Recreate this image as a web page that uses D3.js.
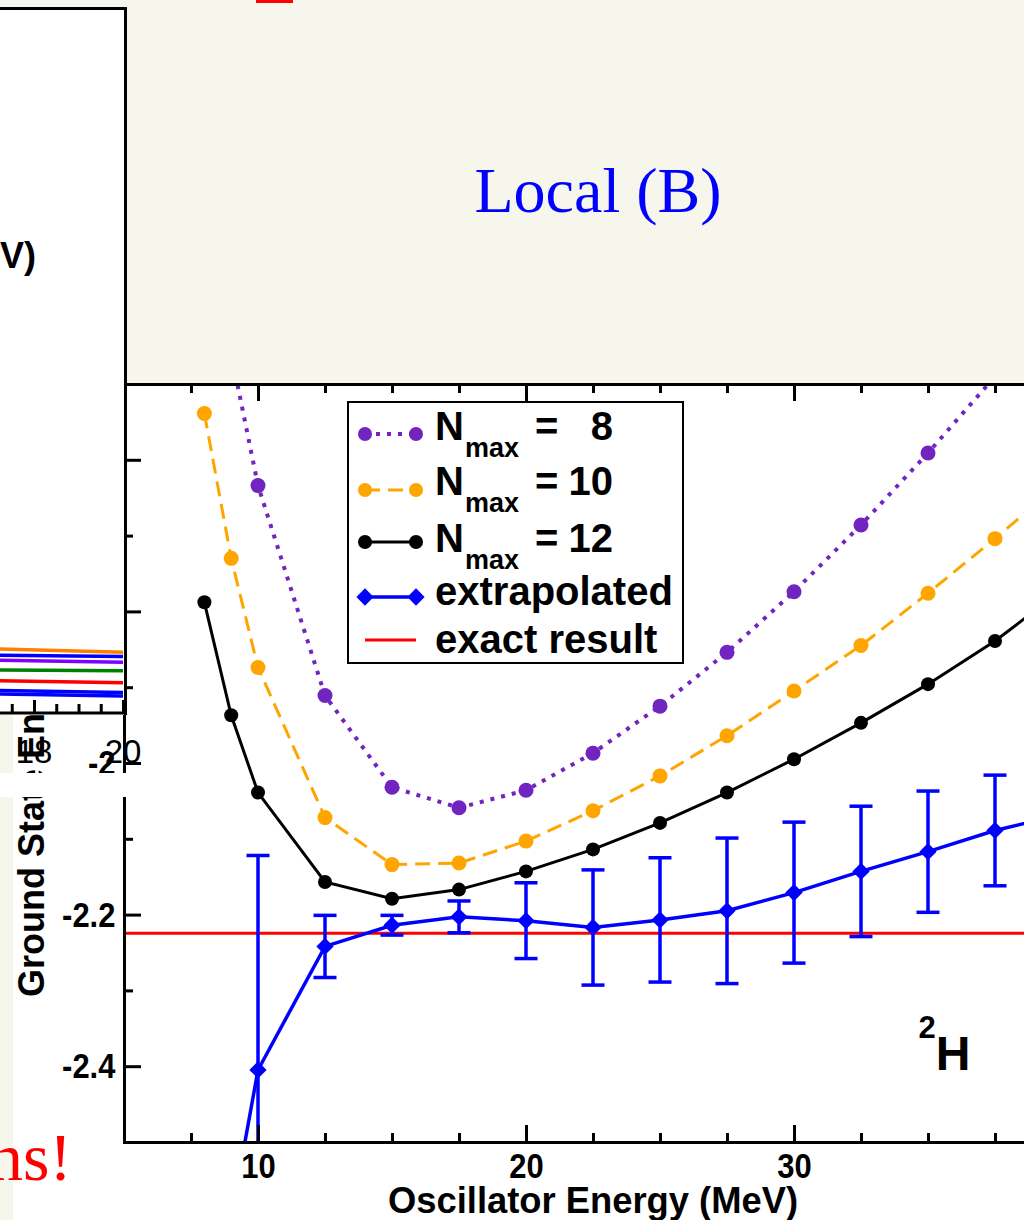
<!DOCTYPE html>
<html>
<head>
<meta charset="utf-8">
<script src="https://cdn.jsdelivr.net/npm/d3@7"></script>
<style>
  html, body { margin: 0; padding: 0; background: #f7f6ed; }
  svg { display: block; }
  .ax path, .ax line { stroke: #000; stroke-width: 3px; }
  .ax text { font-family: "Liberation Sans", Arial, sans-serif; font-weight: bold; font-size: 36px; fill: #000; }
</style>
</head>
<body>
<div id="chart"></div>
<script>
// oscillator energies (MeV) of the NCSM runs
var hwValues = [8, 9, 10, 12.5, 15, 17.5, 20, 22.5, 25, 27.5, 30, 32.5, 35, 37.5, 40];
var nmax8  = [-1.20, -1.46, -1.634, -1.911, -2.032, -2.059, -2.036, -1.987, -1.925, -1.854, -1.774, -1.686, -1.591, -1.49, -1.38];
var nmax10 = [-1.539, -1.730, -1.874, -2.072, -2.134, -2.132, -2.103, -2.063, -2.017, -1.964, -1.905, -1.845, -1.776, -1.704, -1.629];
var nmax12 = [-1.788, -1.937, -2.039, -2.157, -2.179, -2.167, -2.143, -2.114, -2.079, -2.039, -1.995, -1.947, -1.896, -1.839, -1.772];

var hwExtrap   = [9, 10, 12.5, 15, 17.5, 20, 22.5, 25, 27.5, 30, 32.5, 35, 37.5, 40];
var extrap     = [-2.60, -2.405, -2.242, -2.214, -2.203, -2.208, -2.217, -2.207, -2.195, -2.171, -2.143, -2.117, -2.089, -2.068];
var extrapErr  = [0.05, 0.283, 0.041, 0.013, 0.021, 0.050, 0.076, 0.082, 0.096, 0.093, 0.086, 0.080, 0.073, 0.070];

var exactEnergy = -2.2246;

var xMajorTicks = [10, 20, 30, 40];
var xMinorTicks = [7.5, 12.5, 15, 17.5, 22.5, 25, 27.5, 32.5, 35, 37.5];
var yMajorTicks = [-2.4, -2.2, -2, -1.8, -1.6];
var yMinorTicks = [-2.5, -2.3, -2.1, -1.9, -1.7, -1.5];

var legendLabels = ["8", "10", "12"];

// the overlapping panel on the left (another plot of the slide)
var panelX = [17, 20];
var panelSeries = [
  { color: "#ff8000", values: [-2.209, -2.214] },
  { color: "#0000ff", values: [-2.218, -2.220] },
  { color: "#7f00ff", values: [-2.225, -2.228] },
  { color: "#008000", values: [-2.239, -2.240] },
  { color: "#ff0000", values: [-2.254, -2.257] },
  { color: "#0000ff", values: [-2.268, -2.271] },
  { color: "#0000ff", values: [-2.273, -2.276] }
];
var panelTicks = [18, 20];
var panelMinorTicks = [17.5, 18.5, 19, 19.5];

var W = 1024, H = 1220;
var plotL = 124, plotR = 1062, plotT = 384, plotB = 1142;
var font = '"Liberation Sans", Arial, sans-serif';
var serif = '"Liberation Serif", "Times New Roman", serif';

var svg = d3.select("#chart").append("svg")
  .attr("width", W).attr("height", H);

svg.append("rect").attr("width", W).attr("height", H).attr("fill", "#f7f6ed");

// slide title remnant and heading
svg.append("rect").attr("x", 256).attr("y", 0).attr("width", 37).attr("height", 3).attr("fill", "#ff0000");
svg.append("text")
  .attr("x", 598).attr("y", 212)
  .attr("text-anchor", "middle")
  .style("font-family", serif).style("font-size", "64px")
  .attr("fill", "#0000ff")
  .text("Local (B)");

// main plot picture
svg.append("rect").attr("x", 13).attr("y", 383).attr("width", W - 13).attr("height", H - 383).attr("fill", "#fff");

var x = d3.scaleLinear().domain([5, 40]).range([plotL, plotR]);
var y = d3.scaleLinear().domain([-2.5, -1.5]).range([plotB, plotT]);

svg.append("clipPath").attr("id", "plotclip")
  .append("rect").attr("x", plotL).attr("y", plotT).attr("width", plotR - plotL).attr("height", plotB - plotT);

var plot = svg.append("g").attr("clip-path", "url(#plotclip)");

// exact result
plot.append("line")
  .attr("x1", plotL).attr("x2", plotR)
  .attr("y1", y(exactEnergy)).attr("y2", y(exactEnergy))
  .attr("stroke", "#ff0000").attr("stroke-width", 3);

var line = d3.line().x(d => x(d[0])).y(d => y(d[1]));

var series = [
  { vals: nmax8,  color: "#7124bf", dash: "4,7", width: 4, r: 7.5 },
  { vals: nmax10, color: "#ffa500", dash: "15,8", width: 3, r: 7.5 },
  { vals: nmax12, color: "#000000", dash: null, width: 3, r: 7 }
];

series.forEach(function(s) {
  var pts = hwValues.map((h, i) => [h, s.vals[i]]);
  plot.append("path")
    .datum(pts)
    .attr("d", line)
    .attr("fill", "none")
    .attr("stroke", s.color)
    .attr("stroke-width", s.width)
    .attr("stroke-dasharray", s.dash);
  plot.selectAll(null)
    .data(pts)
    .enter()
    .append("circle")
    .attr("cx", d => x(d[0]))
    .attr("cy", d => y(d[1]))
    .attr("r", s.r)
    .attr("fill", s.color);
});

// extrapolated with error bars
var ext = hwExtrap.map((h, i) => [h, extrap[i], extrapErr[i]]);
plot.append("path")
  .datum(ext)
  .attr("d", line)
  .attr("fill", "none")
  .attr("stroke", "#0000ff")
  .attr("stroke-width", 3.5);

var bars = plot.append("g").attr("stroke", "#0000ff").attr("stroke-width", 3.5);
ext.forEach(function(d) {
  var cx = x(d[0]), y0 = y(d[1] - d[2]), y1 = y(d[1] + d[2]);
  bars.append("line").attr("x1", cx).attr("x2", cx).attr("y1", y0).attr("y2", y1);
  bars.append("line").attr("x1", cx - 11.5).attr("x2", cx + 11.5).attr("y1", y0).attr("y2", y0);
  bars.append("line").attr("x1", cx - 11.5).attr("x2", cx + 11.5).attr("y1", y1).attr("y2", y1);
});

var diamond = d3.symbol().type(d3.symbolDiamond2).size(190);
plot.selectAll(null)
  .data(ext)
  .enter()
  .append("path")
  .attr("d", diamond)
  .attr("transform", d => `translate(${x(d[0])},${y(d[1])})`)
  .attr("fill", "#0000ff");

/* Axes */
var shrink = "scale(0.86,1)";

var xAxis = svg.append("g").attr("class", "ax")
  .attr("transform", `translate(0,${plotB})`)
  .call(d3.axisBottom(x).tickValues(xMajorTicks).tickSize(-17).tickPadding(10).tickFormat(d3.format("d")));
xAxis.selectAll("text").attr("transform", shrink);
svg.append("g").attr("class", "ax")
  .attr("transform", `translate(0,${plotB})`)
  .call(d3.axisBottom(x).tickValues(xMinorTicks).tickSize(-9).tickFormat(""))
  .select(".domain").remove();

svg.append("g").attr("class", "ax")
  .attr("transform", `translate(0,${plotT})`)
  .call(d3.axisTop(x).tickValues(xMajorTicks).tickSize(-17).tickFormat(""));
svg.append("g").attr("class", "ax")
  .attr("transform", `translate(0,${plotT})`)
  .call(d3.axisTop(x).tickValues(xMinorTicks).tickSize(-9).tickFormat(""))
  .select(".domain").remove();

var yAxis = svg.append("g").attr("class", "ax")
  .attr("transform", `translate(${plotL},0)`)
  .call(d3.axisLeft(y).tickValues(yMajorTicks).tickSize(-17).tickPadding(10).tickFormat(d => String(d)));
yAxis.selectAll("text").attr("transform", shrink);
svg.append("g").attr("class", "ax")
  .attr("transform", `translate(${plotL},0)`)
  .call(d3.axisLeft(y).tickValues(yMinorTicks).tickSize(-9).tickFormat(""))
  .select(".domain").remove();

svg.append("text")
  .attr("x", (plotL + plotR) / 2).attr("y", 1213)
  .attr("text-anchor", "middle")
  .style("font-family", font).style("font-weight", "bold").style("font-size", "36px")
  .attr("textLength", 410).attr("lengthAdjust", "spacingAndGlyphs")
  .text("Oscillator Energy  (MeV)");

svg.append("text")
  .attr("transform", `translate(44,${(plotT + plotB) / 2}) rotate(-90)`)
  .attr("text-anchor", "middle")
  .style("font-family", font).style("font-weight", "bold").style("font-size", "36px")
  .text("Ground State Energy (MeV)");

// nucleus label
var nuc = svg.append("text")
  .attr("x", x(34.65)).attr("y", y(-2.405))
  .style("font-family", font).style("font-weight", "bold");
nuc.append("tspan").attr("dy", -32).style("font-size", "31px").text("2");
nuc.append("tspan").attr("dy", 32).style("font-size", "48px").text("H");

/* Legend */
var lg = svg.append("g");
lg.append("rect")
  .attr("x", 348).attr("y", 402).attr("width", 335).attr("height", 261)
  .attr("fill", "#fff").attr("stroke", "#000").attr("stroke-width", 2);

var rowY = [434, 490, 542, 597, 640];
var baseY = [440, 495, 552, 605, 653];

series.forEach(function(s, i) {
  lg.append("line")
    .attr("x1", 365).attr("x2", 416).attr("y1", rowY[i]).attr("y2", rowY[i])
    .attr("stroke", s.color).attr("stroke-width", s.width)
    .attr("stroke-dasharray", s.dash);
  [365, 416].forEach(function(cx) {
    lg.append("circle").attr("cx", cx).attr("cy", rowY[i]).attr("r", 7).attr("fill", s.color);
  });
  var t = lg.append("text").attr("y", baseY[i])
    .style("font-family", font).style("font-weight", "bold");
  t.append("tspan").attr("x", 435).style("font-size", "40px").text("N");
  t.append("tspan").attr("x", 465).attr("dy", 17).style("font-size", "27px").text("max");
  lg.append("text").attr("x", 535).attr("y", baseY[i])
    .style("font-family", font).style("font-weight", "bold").style("font-size", "40px").text("=");
  lg.append("text").attr("x", 613).attr("y", baseY[i]).attr("text-anchor", "end")
    .style("font-family", font).style("font-weight", "bold").style("font-size", "40px").text(legendLabels[i]);
});

lg.append("line").attr("x1", 365).attr("x2", 416).attr("y1", rowY[3]).attr("y2", rowY[3])
  .attr("stroke", "#0000ff").attr("stroke-width", 3.5);
[365, 416].forEach(function(cx) {
  lg.append("path").attr("d", diamond).attr("transform", `translate(${cx},${rowY[3]})`).attr("fill", "#0000ff");
});
lg.append("line").attr("x1", 365).attr("x2", 416).attr("y1", rowY[4]).attr("y2", rowY[4])
  .attr("stroke", "#ff0000").attr("stroke-width", 3);

["extrapolated", "exact result"].forEach(function(txt, k) {
  lg.append("text").attr("x", 435).attr("y", baseY[3 + k])
    .style("font-family", font).style("font-weight", "bold").style("font-size", "40px").text(txt);
});

/* Overlapping left panel */
var px = d3.scaleLinear().domain([18, 20]).range([34, 123]);
var py = d3.scaleLinear().domain([-2.3, -1.3]).range([713, 7]);

svg.append("rect").attr("x", 0).attr("y", 7).attr("width", 124).attr("height", 708).attr("fill", "#fff");
svg.append("clipPath").attr("id", "panelclip")
  .append("rect").attr("x", 0).attr("y", 7).attr("width", 124).attr("height", 706);
var panel = svg.append("g").attr("clip-path", "url(#panelclip)");
var pline = d3.line().x(d => px(d[0])).y(d => py(d[1]));
panelSeries.forEach(function(s) {
  panel.append("path")
    .datum(panelX.map((v, i) => [v, s.values[i]]))
    .attr("d", pline)
    .attr("fill", "none")
    .attr("stroke", s.color)
    .attr("stroke-width", 3.5);
});

svg.append("g").attr("class", "ax")
  .attr("transform", "translate(0,713)")
  .call(d3.axisBottom(px).tickValues(panelTicks).tickSize(-13).tickFormat(""))
  .select(".domain").attr("d", "M0,0H124");
svg.append("g").attr("class", "ax")
  .attr("transform", "translate(0,713)")
  .call(d3.axisBottom(px).tickValues(panelMinorTicks).tickSize(-9).tickFormat(""))
  .select(".domain").remove();
svg.append("path").attr("d", "M0,8.5H125.5V715").attr("fill", "none").attr("stroke", "#000").attr("stroke-width", 3);

svg.selectAll(null)
  .data(panelTicks)
  .enter()
  .append("text")
  .attr("x", d => px(d)).attr("y", 763)
  .attr("text-anchor", "middle")
  .style("font-family", font).style("font-size", "33px")
  .text(d => d);

svg.append("text")
  .attr("x", 36).attr("y", 268)
  .attr("text-anchor", "end")
  .style("font-family", font).style("font-weight", "bold").style("font-size", "36px")
  .text("(MeV)");

// white strip of the overlay image
svg.append("rect").attr("x", 0).attr("y", 773).attr("width", 127).attr("height", 24).attr("fill", "#fff");

svg.append("text")
  .attr("x", 72).attr("y", 1180)
  .attr("text-anchor", "end")
  .style("font-family", serif).style("font-size", "68px")
  .attr("fill", "#ff0000")
  .text("ns!");
</script>
</body>
</html>
